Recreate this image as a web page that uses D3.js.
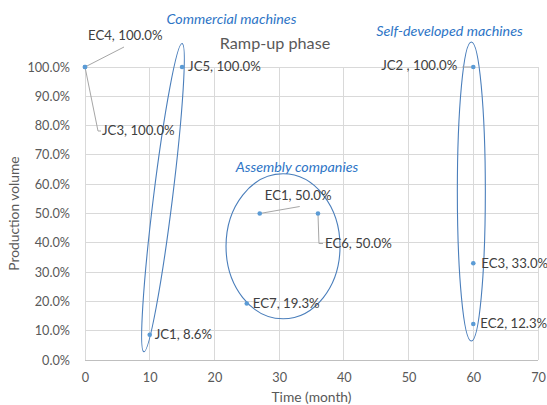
<!DOCTYPE html>
<html><head><meta charset="utf-8">
<script src="https://cdn.jsdelivr.net/npm/d3@7"></script>
<style>html,body{margin:0;padding:0;background:#fff;}svg{display:block;font-family:Lato,"Open Sans",sans-serif;}</style>
</head><body><svg id="c" width="547" height="405"></svg>
<script>
// ---- data ----
const names   = ["EC4","JC3","JC5","JC1","EC1","EC6","EC7","JC2","EC3","EC2"];
const months  = [0, 0, 15, 10, 27, 36, 25, 60, 60, 60];
const volumes = [100, 100, 100, 8.6, 50, 50, 19.3, 100, 33, 12.3];
const labelTexts = ["EC4, 100.0%","JC3, 100.0%","JC5, 100.0%","JC1, 8.6%","EC1, 50.0%","EC6, 50.0%","EC7, 19.3%","JC2 , 100.0%","EC3, 33.0%","EC2, 12.3%"];
const xTicks = [0,10,20,30,40,50,60,70];
const yTicks = [0,10,20,30,40,50,60,70,80,90,100];
const groupNames = ["Commercial machines","Assembly companies","Self-developed machines"];

// ---- layout (pixel offsets, not data) ----
const labelLayout = {
  EC4:{dx:3,dy:-30,a:"start", lead:[[0,0],[39,-20]]},
  JC3:{dx:17,dy:65,a:"start", lead:[[0,0],[13,64],[16,64]]},
  JC5:{dx:6,dy:1,a:"start"},
  JC1:{dx:5,dy:1,a:"start"},
  EC1:{dx:5,dy:-17,a:"start", lead:[[0,0],[40,-7]]},
  EC6:{dx:7,dy:31,a:"start", lead:[[0,0],[1,30],[5,30]]},
  EC7:{dx:6,dy:1,a:"start"},
  JC2:{dx:-16,dy:0,a:"end", lead:[[-2,0],[-11,0]]},
  EC3:{dx:8,dy:1,a:"start"},
  EC2:{dx:7,dy:1,a:"start"}
};
// ellipses in data coordinates: endpoints of major axis + half minor (px)
const ellipseLayout = [
  {type:"axis", p1:[15.0,108.0], p2:[9.1,2.8], b:9.5},
  {type:"box", cx:30.6, cy:38.8, rx:57, ry:72.5},
  {type:"box", cx:59.7, cy:57.5, rx:14, ry:149.5}
];
const groupLabelPos = [[231.5,20],[297,168],[449.5,32]];

const W=547,H=405, L=85, R=538, T=67, B=360;
const svg=d3.select("#c");
const x=d3.scaleLinear().domain([0,70]).range([L,R]);
const y=d3.scaleLinear().domain([0,100]).range([B,T]);

// gridlines
svg.append("g").selectAll("line").data(yTicks).join("line")
  .attr("x1",L).attr("x2",R).attr("y1",d=>y(d)).attr("y2",d=>y(d))
  .attr("stroke",d=>d===0?"#bfbfbf":"#d9d9d9").attr("stroke-width",1).attr("shape-rendering","crispEdges");
svg.append("g").selectAll("line").data(xTicks).join("line")
  .attr("y1",T).attr("y2",B).attr("x1",d=>x(d)).attr("x2",d=>x(d))
  .attr("stroke","#d9d9d9").attr("stroke-width",1).attr("shape-rendering","crispEdges");

// axes via d3 axis
const yAxis=svg.append("g").attr("transform",`translate(${L},0)`)
  .call(d3.axisLeft(y).tickValues(yTicks).tickFormat(d=>d.toFixed(1)+"%").tickSize(0).tickPadding(15));
const xAxis=svg.append("g").attr("transform",`translate(0,${B})`)
  .call(d3.axisBottom(x).tickValues(xTicks).tickFormat(d3.format("d")).tickSize(0).tickPadding(13));
[yAxis,xAxis].forEach(g=>{g.select(".domain").remove();
  g.selectAll("text").attr("fill","#595959").style("font-size","12.7px").style("font-family","Lato,'Open Sans',sans-serif");});

// axis titles
svg.append("text").attr("x",(L+R)/2).attr("y",398).attr("text-anchor","middle").attr("dominant-baseline","middle")
  .attr("fill","#595959").style("font-size","13.8px").text("Time (month)");
svg.append("text").attr("transform",`translate(15,${(T+B)/2}) rotate(-90)`).attr("text-anchor","middle").attr("dominant-baseline","middle")
  .attr("fill","#595959").style("font-size","13.8px").text("Production volume");
// title
svg.append("text").attr("x",275).attr("y",45).attr("text-anchor","middle").attr("dominant-baseline","middle")
  .attr("fill","#595959").style("font-size","16.2px").text("Ramp-up phase");

// ellipses
const eg=svg.append("g").attr("fill","none").attr("stroke","#4a7ebb").attr("stroke-width",1.1);
ellipseLayout.forEach(e=>{
  if(e.type==="axis"){
    const x1=x(e.p1[0]),y1=y(e.p1[1]),x2=x(e.p2[0]),y2=y(e.p2[1]);
    const cx=(x1+x2)/2, cy=(y1+y2)/2, a=Math.hypot(x2-x1,y2-y1)/2;
    const ang=Math.atan2(y2-y1,x2-x1)*180/Math.PI;
    eg.append("ellipse").attr("cx",0).attr("cy",0).attr("rx",a).attr("ry",e.b)
      .attr("transform",`translate(${cx},${cy}) rotate(${ang})`);
  } else {
    eg.append("ellipse").attr("cx",x(e.cx)).attr("cy",y(e.cy)).attr("rx",e.rx).attr("ry",e.ry);
  }
});

// group labels
svg.append("g").selectAll("text").data(groupNames).join("text")
  .attr("x",(d,i)=>groupLabelPos[i][0]).attr("y",(d,i)=>groupLabelPos[i][1])
  .attr("text-anchor","middle").attr("dominant-baseline","middle")
  .attr("fill","#2e75c6").style("font-style","italic").style("font-size","14.3px").text(d=>d);

// points
const pts=names.map((n,i)=>({n, px:x(months[i]), py:y(volumes[i]), t:labelTexts[i], lay:labelLayout[n]}));
// leader lines
svg.append("g").selectAll("path").data(pts.filter(p=>p.lay.lead)).join("path")
  .attr("d",p=>d3.line()(p.lay.lead.map(q=>[p.px+q[0],p.py+q[1]])))
  .attr("fill","none").attr("stroke","#a6a6a6").attr("stroke-width",1);
svg.append("g").selectAll("circle").data(pts).join("circle")
  .attr("cx",p=>p.px).attr("cy",p=>p.py).attr("r",2.3).attr("fill","#5b9bd5");
svg.append("g").selectAll("text").data(pts).join("text")
  .attr("x",p=>p.px+p.lay.dx).attr("y",p=>p.py+p.lay.dy)
  .attr("text-anchor",p=>p.lay.a).attr("dominant-baseline","middle")
  .attr("fill","#404040").style("font-size","13.2px").text(p=>p.t);
</script></body></html>
